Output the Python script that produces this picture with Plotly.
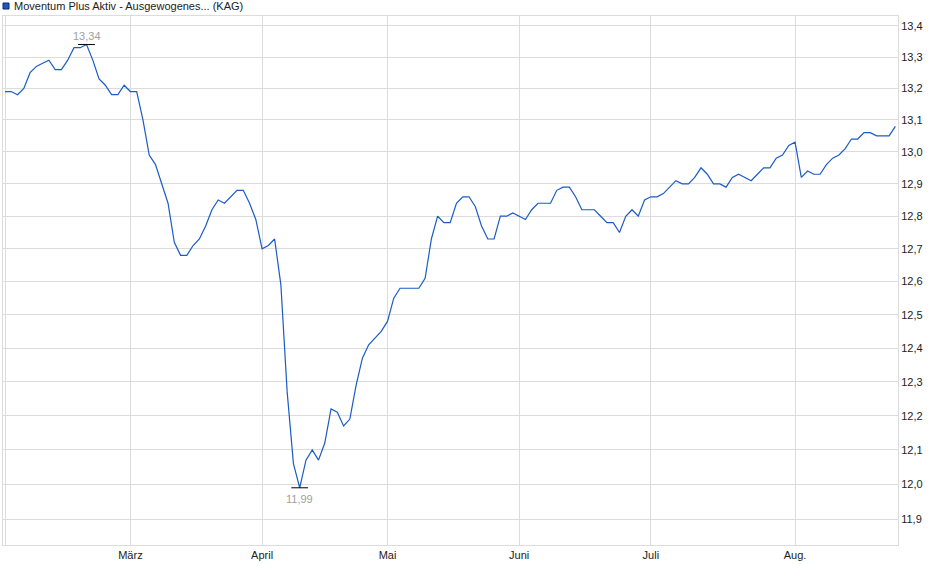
import numpy as np
import pandas as pd
import plotly.graph_objects as go

# trading days Feb 3 - Aug 25 2025 (no Good Friday, Easter Monday, May 1)
holidays = ["2025-04-18", "2025-04-21", "2025-05-01"]
dates = pd.bdate_range("2025-02-03", "2025-08-25", freq="C", holidays=holidays)
days = dates.strftime("%Y-%m-%d").tolist()

prices = [
    13.19, 13.19, 13.18, 13.20, 13.25, 13.27, 13.28, 13.29, 13.26, 13.26,
    13.29, 13.33, 13.33, 13.34, 13.29, 13.23, 13.21, 13.18, 13.18, 13.21,
    13.19, 13.19, 13.10, 12.99, 12.96, 12.90, 12.84, 12.72, 12.68, 12.68,
    12.71, 12.73, 12.77, 12.82, 12.85, 12.84, 12.86, 12.88, 12.88, 12.84,
    12.79, 12.70, 12.71, 12.73, 12.59, 12.27, 12.06, 11.99, 12.07, 12.10,
    12.07, 12.12, 12.22, 12.21, 12.17, 12.19, 12.29, 12.37, 12.41, 12.43,
    12.45, 12.48, 12.55, 12.58, 12.58, 12.58, 12.58, 12.61, 12.73, 12.80,
    12.78, 12.78, 12.84, 12.86, 12.86, 12.83, 12.77, 12.73, 12.73, 12.80,
    12.80, 12.81, 12.80, 12.79, 12.82, 12.84, 12.84, 12.84, 12.88, 12.89,
    12.89, 12.86, 12.82, 12.82, 12.82, 12.80, 12.78, 12.78, 12.75, 12.80,
    12.82, 12.80, 12.85, 12.86, 12.86, 12.87, 12.89, 12.91, 12.90, 12.90,
    12.92, 12.95, 12.93, 12.90, 12.90, 12.89, 12.92, 12.93, 12.92, 12.91,
    12.93, 12.95, 12.95, 12.98, 12.99, 13.02, 13.03, 12.92, 12.94, 12.93,
    12.93, 12.96, 12.98, 12.99, 13.01, 13.04, 13.04, 13.06, 13.06, 13.05,
    13.05, 13.05, 13.08,
]

month_days = ["2025-02-03", "2025-03-03", "2025-04-01", "2025-05-02",
              "2025-06-02", "2025-07-01", "2025-08-01"]
month_labels = ["", "März", "April", "Mai", "Juni", "Juli", "Aug."]
y_ticks = [11.9, 12.0, 12.1, 12.2, 12.3, 12.4, 12.5, 12.6, 12.7,
           12.8, 12.9, 13.0, 13.1, 13.2, 13.3, 13.4]
name = "Moventum Plus Aktiv - Ausgewogenes... (KAG)"

font = "Liberation Sans, Arial, sans-serif"
grid = "#dcdcdc"
blue = "#1a5bc6"

i_max = int(np.argmax(prices))
i_min = int(np.argmin(prices))

fig = go.Figure()
fig.add_trace(go.Scatter(
    x=days, y=prices, mode="lines", name=name,
    line=dict(color=blue, width=1.2),
))
# small black bars at high and low
fig.add_trace(go.Scatter(
    x=[days[i_max], days[i_min]], y=[prices[i_max], prices[i_min]],
    mode="markers", hoverinfo="skip",
    marker=dict(symbol="line-ew", size=12, line=dict(color="black", width=1)),
))

for i, shift in [(i_max, 9), (i_min, -11)]:
    fig.add_annotation(
        x=days[i], y=np.log10(prices[i]), text=f"{prices[i]:.2f}".replace(".", ","),
        showarrow=False, yshift=shift, font=dict(size=11, color="#a0a0a0", family=font),
    )

# legend square + series name at top
fig.add_shape(type="rect", xref="paper", yref="paper",
              x0=0.0, x1=6 / 895, y0=1 + 7 / 529, y1=1 + 13 / 529,
              fillcolor="#1f56c0", line=dict(color="#0a2a6a", width=1))
fig.add_annotation(xref="paper", yref="paper", x=9 / 895, y=1 + 10 / 529,
                   xanchor="left", yanchor="middle", showarrow=False, text=name,
                   font=dict(size=11, color="#222222", family=font))

n = len(days)
fig.update_layout(
    width=940, height=579,
    margin=dict(l=3, r=42, t=16, b=34),
    paper_bgcolor="white", plot_bgcolor="white",
    showlegend=False,
    separators=",.",
    font=dict(family=font, size=11, color="#222222"),
    xaxis=dict(
        type="category", range=[-0.32, n - 1 + 0.42],
        tickmode="array", tickvals=month_days, ticktext=month_labels,
        showgrid=True, gridcolor=grid, gridwidth=1,
        showline=True, linecolor=grid, linewidth=1, mirror=True,
        ticks="", zeroline=False, tickfont=dict(size=11, color="#222222"),
    ),
    yaxis=dict(
        type="log", side="right",
        range=[np.log10(11.826), np.log10(13.432)],
        tickmode="array", tickvals=y_ticks,
        ticktext=[f"{v:.1f}".replace(".", ",") for v in y_ticks],
        showgrid=True, gridcolor=grid, gridwidth=1,
        showline=True, linecolor=grid, linewidth=1, mirror=True,
        ticks="", zeroline=False, tickfont=dict(size=11, color="#222222"),
    ),
)

# page has a default 8px body margin; drop it so the chart sits at 0,0
fig.write_html("out.html", config={"displayModeBar": False},
               post_script="document.body.style.margin='0';")
